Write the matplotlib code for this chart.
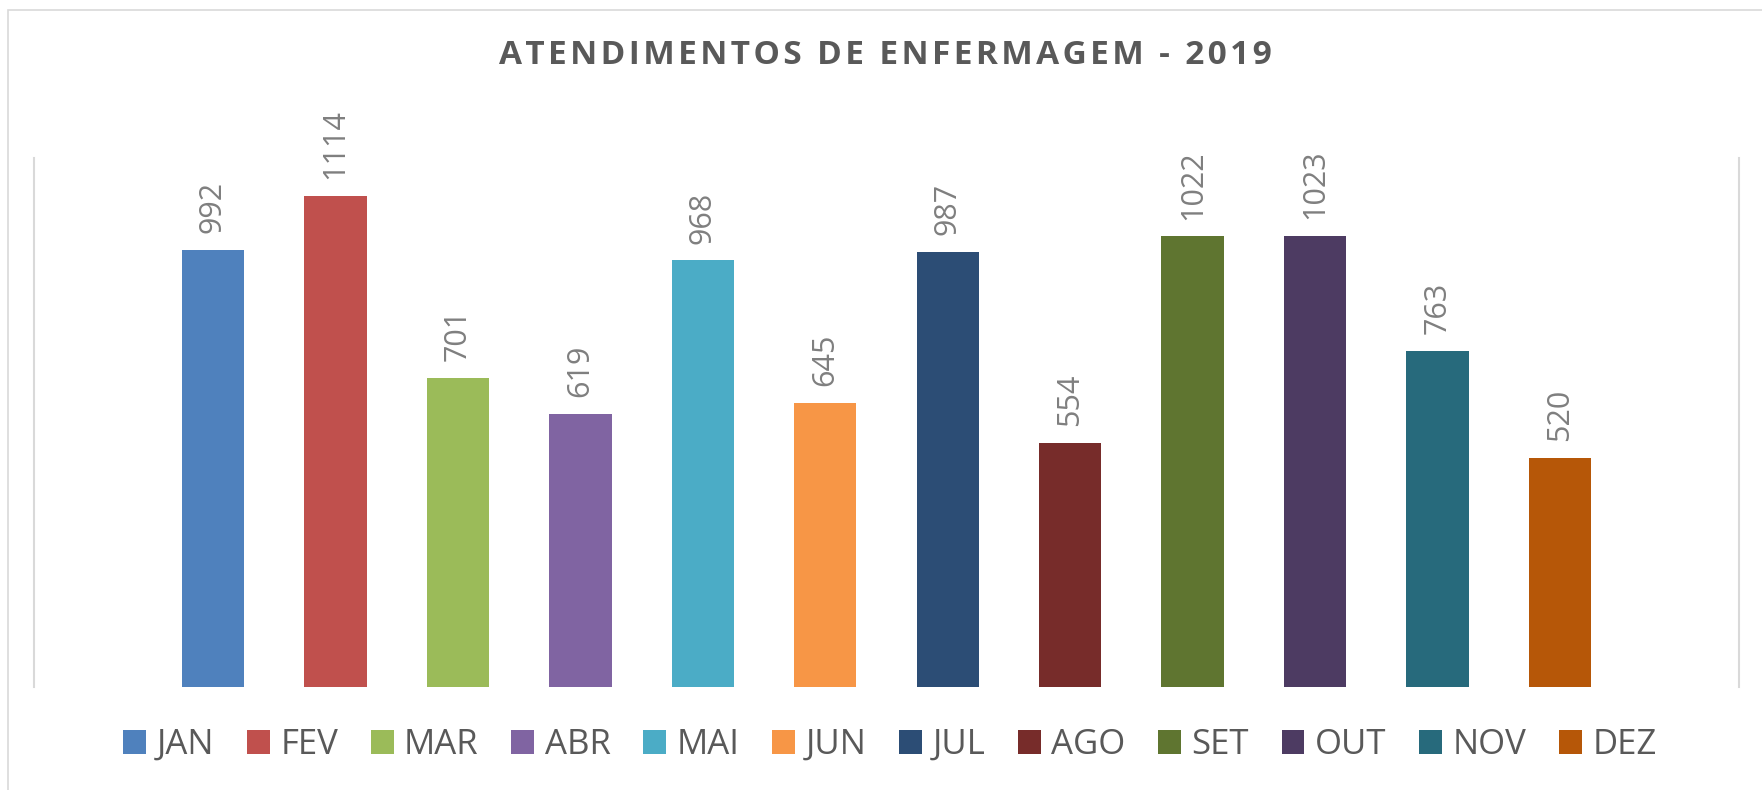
import matplotlib
matplotlib.use("Agg")
import matplotlib.pyplot as plt
from matplotlib.patches import Patch, Rectangle

# data
months = ["JAN", "FEV", "MAR", "ABR", "MAI", "JUN", "JUL", "AGO", "SET", "OUT", "NOV", "DEZ"]
values = [992, 1114, 701, 619, 968, 645, 987, 554, 1022, 1023, 763, 520]
colors = ["#4F81BD", "#C0504D", "#9BBB59", "#8064A2", "#4BACC6", "#F79646",
          "#2C4D75", "#772C2A", "#5F7530", "#4D3B62", "#276A7C", "#B65708"]
title = "ATENDIMENTOS DE ENFERMAGEM - 2019"

plt.rcParams["font.family"] = ["Open Sans", "DejaVu Sans"]

fig = plt.figure(figsize=(17.62, 7.90), dpi=100)
ax = fig.add_axes([34 / 1762, 1 - 687 / 790, 1705 / 1762, 529 / 790])

x = list(range(len(months)))
bars = ax.bar(x, values, width=0.51, color=colors)
for xi, v in zip(x, values):
    ax.annotate(str(v), (xi, v), xytext=(0, 12), textcoords="offset points",
                ha="center", va="bottom", rotation=90, fontsize=22, color="#7F7F7F")

ax.set_xlim(-1.46, 12.46)
ax.set_ylim(0, 1200)
ax.set_xticks([])
ax.set_yticks([])
for s in ["top", "bottom"]:
    ax.spines[s].set_visible(False)
for s in ["left", "right"]:
    ax.spines[s].set_color("#D9D9D9")
    ax.spines[s].set_linewidth(1.5)

# outer chart border (cropped at right/bottom)
fig.patches.append(Rectangle((8 / 1762, -0.1), 1.2, 1 - 10 / 790 + 0.1,
                             transform=fig.transFigure, fill=False,
                             edgecolor="#D9D9D9", linewidth=1.2))

# letter-spaced title
fig.text(885 / 1762, 1 - 56 / 790, "\u200a".join(title), ha="center", va="center",
         fontsize=24, fontweight="bold", color="#595959")

handles = [Patch(facecolor=c) for c in colors]
fig.legend(handles, months, loc="center", bbox_to_anchor=(890 / 1762, 1 - 745 / 790),
           ncol=12, frameon=False, fontsize=25, labelcolor="#595959",
           handlelength=0.66, handleheight=0.66, handletextpad=0.3,
           columnspacing=0.94, borderpad=0)

fig.savefig("out.png", dpi=100)
